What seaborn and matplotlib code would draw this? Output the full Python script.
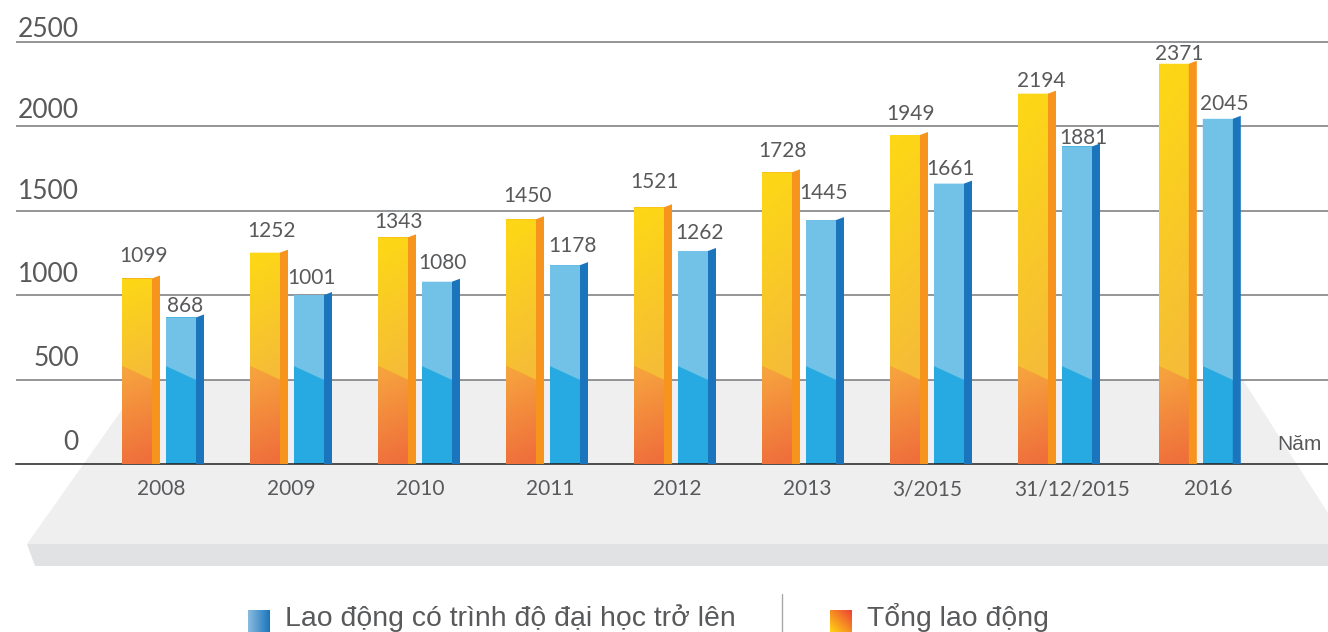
import numpy as np
import pandas as pd
import matplotlib
matplotlib.use("Agg")
import matplotlib.pyplot as plt
import seaborn as sns
from matplotlib.colors import LinearSegmentedColormap
from matplotlib.lines import Line2D
from matplotlib.patches import Polygon

# data
years = ["2008", "2009", "2010", "2011", "2012", "2013", "3/2015", "31/12/2015", "2016"]
tong_lao_dong = [1099, 1252, 1343, 1450, 1521, 1728, 1949, 2194, 2371]
dai_hoc = [868, 1001, 1080, 1178, 1262, 1445, 1661, 1881, 2045]
y_ticks = [0, 500, 1000, 1500, 2000, 2500]

# layout, group slots and small per-label nudges in pixels
W, H = 1328, 632
slots = [0, 1, 2, 3, 4, 5, 6, 7, 8.1]
year_shift = [2, 4, 5, 7, 6, 8, 0, 17, 12]
y_lift = [21, 21, 21, 19, 16, 13]
lift_tong = [22.5, 22, 15, 23, 25, 21, 21, 13, 10]
lift_dh = [11.5, 17, 19, 19, 18, 27, 15, 8.5, 15]
dx_tong = [7, 7, 6, 7, 6, 5, 6, 8, 5]
dx_dh = [4, 3, 5, 7, 7, 3, 2, 6, 6]

GREY = "#58595B"
PX_X = 128.0
PX_Y = 422 / 2500
AX_LEFT, AX_BOTTOM, X0 = 16, 464, 159
Y_TOP = 2520

sns.set_theme(style="white")
plt.rcParams["font.family"] = ["Lato", "DejaVu Sans"]


def fx(px):
    return px / W


def fy(py):
    return 1 - py / H


df = pd.DataFrame({
    "slot": slots * 2,
    "value": tong_lao_dong + dai_hoc,
    "series": ["Tổng lao động"] * 9 + ["Lao động có trình độ đại học trở lên"] * 9,
})

fig = plt.figure(figsize=(W / 100, H / 100), dpi=100, facecolor="white")

# grey floor behind the columns
floor_top = [(143, 380), (1243, 380), (1328, 513), (1328, 544), (27, 544)]
floor_side = [(27, 544), (1328, 544), (1328, 566), (35, 566)]
for pts, col in [(floor_top, "#EFEFF0"), (floor_side, "#E1E2E4")]:
    fig.add_artist(Polygon([(fx(a), fy(b)) for a, b in pts], closed=True, fc=col, ec="none",
                           transform=fig.transFigure, zorder=-5))

ax_h = Y_TOP * PX_Y
ax = fig.add_axes([fx(AX_LEFT), fy(AX_BOTTOM), (W - AX_LEFT) / W, ax_h / H])
ax.patch.set_alpha(0)

sns.barplot(data=df, x="slot", y="value", hue="series", native_scale=True, ax=ax,
            width=88 / 128, gap=1 - 30 / 44, dodge=True, errorbar=None, legend=False,
            palette=["#F7941D", "#27A9E1"], saturation=1, linewidth=0)

warm_top = LinearSegmentedColormap.from_list("warm_top", ["#F5BC38", "#FDD716"])
warm_low = LinearSegmentedColormap.from_list("warm_low", ["#EF6F3B", "#F6A33E"])


def fill_gradient(poly, cmap, extent):
    # image clipped to a polygon, slightly diagonal like the reference
    g = np.linspace(0, 1, 120)[:, None] + np.linspace(0.06, -0.06, 20)[None, :]
    im = ax.imshow(np.clip(g, 0, 1), origin="lower", extent=extent, cmap=cmap, vmin=0, vmax=1,
                   aspect="auto", zorder=3, interpolation="bilinear")
    patch = Polygon(poly, closed=True, transform=ax.transData, fc="none", ec="none")
    ax.add_patch(patch)
    im.set_clip_path(patch)


side_w = 8 / PX_X
side_rise = 3 / PX_Y
band_hi, band_lo = 580, 498  # the line where the floor cuts across each column

for cont, upper, side_col, warm in zip(ax.containers, ["#F5BC38", "#72C2E8"], ["#F7941D", "#1B75BC"], [True, False]):
    for bar in cont:
        x0, x1, top = bar.get_x(), bar.get_x() + bar.get_width(), bar.get_height()
        bar.set_zorder(2)
        ax.add_patch(Polygon([(x1, 0), (x1, top), (x1 + side_w, top + side_rise), (x1 + side_w, 0)],
                             closed=True, fc=side_col, ec="none", zorder=3))
        above = [(x0, band_hi), (x1, band_lo), (x1, top), (x0, top)]
        below = [(x0, 0), (x1, 0), (x1, band_lo), (x0, band_hi)]
        if warm:
            fill_gradient(above, warm_top, (x0, x1, band_lo, top))
            fill_gradient(below, warm_low, (x0, x1, 0, band_hi))
        else:
            ax.add_patch(Polygon(above, closed=True, fc=upper, ec="none", zorder=3))

ax.set_xlim((AX_LEFT - X0) / PX_X, (W - X0) / PX_X)
ax.set_ylim(0, Y_TOP)

ax.set_xlabel("")
ax.set_ylabel("")
ax.set_yticks(y_ticks[1:])
ax.set_yticklabels([])
ax.yaxis.grid(True, color="#77787B", linewidth=1.1)
ax.set_axisbelow(True)
ax.set_xticks([s + d / PX_X for s, d in zip(slots, year_shift)])
ax.set_xticklabels(years, fontsize=15, color=GREY)
ax.tick_params(axis="both", length=0)
ax.tick_params(axis="x", pad=11)
for side in ["top", "left", "right"]:
    ax.spines[side].set_visible(False)
ax.spines["bottom"].set_color("#231F20")
ax.spines["bottom"].set_linewidth(1.1)

# y axis numbers sit above their gridlines
for v, lift in zip(y_ticks, y_lift):
    ax.annotate(str(v), xy=(0, v), xycoords=("axes fraction", "data"), xytext=(63, lift),
                textcoords="offset pixels", ha="right", va="center", fontsize=19, color=GREY,
                annotation_clip=False)

# value labels
for cont, vals, lifts, dxs in zip(ax.containers, [tong_lao_dong, dai_hoc], [lift_tong, lift_dh], [dx_tong, dx_dh]):
    for bar, v, lift, dx in zip(cont, vals, lifts, dxs):
        ax.annotate(str(v), xy=(bar.get_x() + bar.get_width() / 2, v), xytext=(dx, lift),
                    textcoords="offset pixels", ha="center", va="center", fontsize=15, color=GREY,
                    zorder=5, annotation_clip=False)

fig.text(fx(1277), fy(445), "Năm", fontsize=15, color=GREY, family="Liberation Sans", va="center")

# legend row sits on the bottom edge like the reference
fig.text(fx(285), fy(626), "Lao động có trình độ đại học trở lên", fontsize=20.4, color=GREY,
         family="Liberation Sans", va="baseline")
fig.text(fx(867), fy(626), "Tổng lao động", fontsize=20.4, color=GREY,
         family="Liberation Sans", va="baseline")
fig.add_artist(Line2D([fx(782), fx(782)], [fy(594), fy(632)], color="#A7A9AC", linewidth=1,
                      transform=fig.transFigure))

swatches = [(248, ["#8ABBDF", "#1B75BC"]), (830, ["#FFD512", "#EE4036"])]
for left, cols in swatches:
    sw = fig.add_axes([fx(left), 0, 22 / W, 22 / H])
    cm = LinearSegmentedColormap.from_list("sw", cols)
    g = np.linspace(0, 1, 40)[None, :] + (np.linspace(0, 1, 40)[:, None] if left > 500 else 0)
    sw.imshow(g, origin="lower", cmap=cm, aspect="auto")
    sw.axis("off")

fig.savefig("out.png", dpi=100)
